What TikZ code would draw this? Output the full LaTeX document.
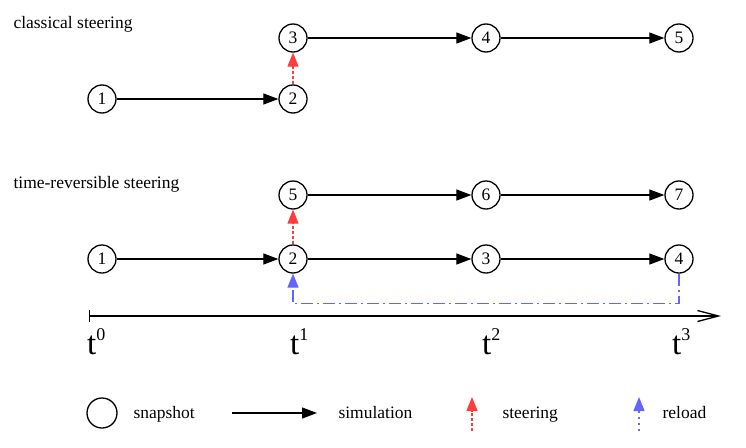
\documentclass[tikz,border=0pt]{standalone}
\usepackage{fontspec}
\setmainfont{Liberation Serif}
\newfontfamily\timesface{Liberation Serif}
\usepackage{tikz}
\usetikzlibrary{arrows.meta}

\definecolor{steerred}{RGB}{255,60,60}
\definecolor{reloadblue}{RGB}{100,100,255}
\newcommand{\tlabel}[1]{{\fontsize{33}{33}\selectfont t\raisebox{0.40em}{\fontsize{18}{18}\selectfont #1}}}

\begin{document}
\begin{tikzpicture}[
			x=1pt, y=-1pt,
			font=\timesface\fontsize{17.5}{20}\selectfont,
			snapnode/.style={circle, draw=black, line width=1.3pt, minimum size=28pt, inner sep=0pt},
			simline/.style={line width=1.2pt, -{Triangle[length=15pt,width=11pt]}},
			steerline/.style={steerred, line width=1.2pt, dash pattern=on 3pt off 2pt, -{Triangle[length=14pt,width=11pt]}},
			reloadline/.style={reloadblue, line width=1.3pt, dash pattern=on 12pt off 4pt on 2pt off 4pt, -{Triangle[length=14pt,width=11pt]}},
		]
			\useasboundingbox (0,0) rectangle (746,447);

			%Titles
			\node[anchor=base west]	(title1)	at (10,28)	{classical steering};
			\node[anchor=base west]	(title2)	at (10,188)	{time-reversible steering};

			%Nodes classical
			\node[snapnode]	(a1)	at (102,99)		{1};
			\node[snapnode]	(a2)	at (293,99)		{2};
			\node[snapnode]	(a3)	at (293,38)		{3};
			\node[snapnode]	(a4)	at (486,38)		{4};
			\node[snapnode]	(a5)	at (679,38)		{5};

			%Nodes time-reversible
			\node[snapnode]	(b1)	at (102,259)	{1};
			\node[snapnode]	(b2)	at (293,259)	{2};
			\node[snapnode]	(b3)	at (486,259)	{3};
			\node[snapnode]	(b4)	at (679,259)	{4};
			\node[snapnode]	(b5)	at (293,195)	{5};
			\node[snapnode]	(b6)	at (486,195)	{6};
			\node[snapnode]	(b7)	at (679,195)	{7};

			%Lines classical
			\draw[simline]		(a1.east) -- (a2.west);
			\draw[steerline]	(a2.north) -- (a3.south);
			\draw[simline]		(a3.east) -- (a4.west);
			\draw[simline]		(a4.east) -- (a5.west);

			%Lines time-reversible
			\draw[simline]		(b1.east) -- (b2.west);
			\draw[simline]		(b2.east) -- (b3.west);
			\draw[simline]		(b3.east) -- (b4.west);
			\draw[steerline]	(b2.north) -- (b5.south);
			\draw[simline]		(b5.east) -- (b6.west);
			\draw[simline]		(b6.east) -- (b7.west);
			\draw[reloadline]	(b4.south) -- ++(0,30) -| (b2.south);

			%Time axis
			\coordinate (axstart) at (89,316);
			\coordinate (axend) at (721,316);
			\draw[line width=1.3pt, {Bar[width=12pt]}-{Straight Barb[length=21pt,width=11pt,line width=1.3pt]}] (axstart) -- (axend);
			\node[anchor=base west, inner sep=0pt]	(t0)	at (87,354)		{\tlabel{0}};
			\node[anchor=base west, inner sep=0pt]	(t1)	at (290,354)	{\tlabel{1}};
			\node[anchor=base west, inner sep=0pt]	(t2)	at (482,354)	{\tlabel{2}};
			\node[anchor=base west, inner sep=0pt]	(t3)	at (672,354)	{\tlabel{3}};

			%Legend
			\node[snapnode, minimum size=30pt]	(lsnap)	at (102,413)	{};
			\node[anchor=base west]	(lsnaptxt)	at (130,418)	{snapshot};
			\coordinate (lsimA) at (232,413);
			\coordinate (lsimB) at (317,413);
			\draw[simline]	(lsimA) -- (lsimB);
			\node[anchor=base west]	(lsimtxt)	at (335,418)	{simulation};
			\coordinate (lsteerA) at (472,431);
			\coordinate (lsteerB) at (472,397);
			\draw[steerline]	(lsteerA) -- (lsteerB);
			\node[anchor=base west]	(lsteertxt)	at (499,418)	{steering};
			\coordinate (lrelA) at (639,431);
			\coordinate (lrelB) at (639,397);
			\draw[reloadline, dash pattern=on 2pt off 4pt]	(lrelA) -- (lrelB);
			\node[anchor=base west]	(lreltxt)	at (659,418)	{reload};

		\end{tikzpicture}
\end{document}
